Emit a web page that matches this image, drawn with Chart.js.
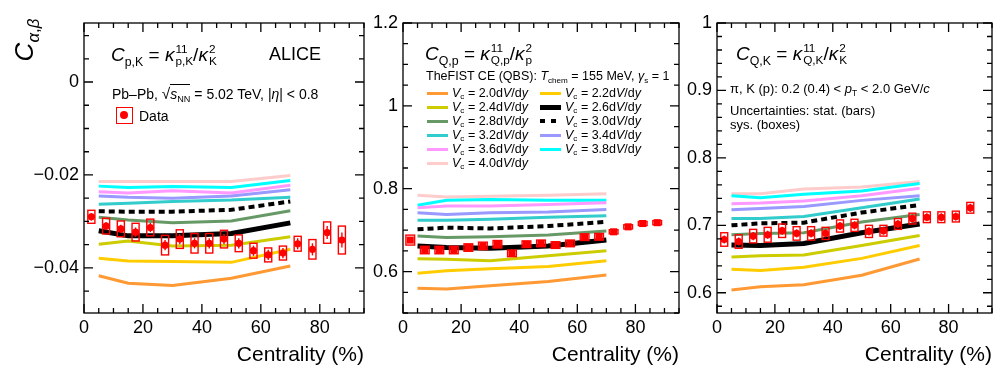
<!DOCTYPE html>
<html>
<head>
<meta charset="utf-8">
<script src="https://cdn.jsdelivr.net/npm/chart.js@4.4.0/dist/chart.umd.min.js"></script>
<style>
  body { margin: 0; background: #fff; width: 996px; height: 369px; position: relative; overflow: hidden;
         font-family: "Liberation Sans", Arial, Helvetica, sans-serif; color: #000; }
  canvas { position: absolute; top: 0; }
  .t { position: absolute; white-space: nowrap; line-height: 1; }
  .t sub { font-size: 0.65em; vertical-align: -0.35em; line-height: 0; }
  .ss { display: inline-flex; flex-direction: column; font-size: 0.62em; vertical-align: 0.7em; line-height: 1.05; margin-left: 1px; }
  .leg { position: absolute; font-size: 12.5px; white-space: nowrap; line-height: 1; }
  .leg .ln { position: absolute; left: 0; width: 21px; }
  .leg span.tx { position: absolute; left: 25px; top: -6px; }
</style>
</head>
<body>
<canvas id="c1" width="372" height="369" style="left:0px"></canvas>
<canvas id="c2" width="312" height="369" style="left:372px"></canvas>
<canvas id="c3" width="312" height="369" style="left:684px"></canvas>

<!-- y title -->
<div class="t" style="left:24px;top:40px;font-size:26px;transform:translate(-50%,-50%) rotate(-90deg);">
  <i>C</i><sub><i>α</i>,<i>β</i></sub>
</div>

<!-- panel 1 texts -->
<div class="t" style="left:111px;top:43px;font-size:19px;"><i>C</i><sub>p,K</sub> = <i>κ</i><span class="ss"><span>11</span><span>p,K</span></span>/<i>κ</i><span class="ss"><span>2</span><span>K</span></span></div>
<div class="t" style="left:269px;top:45px;font-size:18px;">ALICE</div>
<div class="t" style="left:112px;top:86px;font-size:14px;">Pb–Pb, <span style="font-size:1.1em">√</span><span style="border-top:1px solid #000;padding-top:1px"><i>s</i><sub>NN</sub></span> = 5.02 TeV, |<i>η</i>| &lt; 0.8</div>
<div style="position:absolute;left:116px;top:107px;width:15px;height:15px;border:1.5px solid #f00;"></div>
<div style="position:absolute;left:120px;top:111px;width:8px;height:8px;border-radius:50%;background:#f00;"></div>
<div class="t" style="left:139px;top:109px;font-size:14px;">Data</div>

<!-- panel 2 texts -->
<div class="t" style="left:425px;top:42px;font-size:19px;"><i>C</i><sub>Q,p</sub> = <i>κ</i><span class="ss"><span>11</span><span>Q,p</span></span>/<i>κ</i><span class="ss"><span>2</span><span>p</span></span></div>
<div class="t" style="left:426px;top:70px;font-size:12.5px;">TheFIST CE (QBS): <i>T</i><sub>chem</sub> = 155 MeV, <i>γ</i><sub>s</sub> = 1</div>
<div id="legend"></div>

<!-- panel 3 texts -->
<div class="t" style="left:736px;top:42px;font-size:19px;"><i>C</i><sub>Q,K</sub> = <i>κ</i><span class="ss"><span>11</span><span>Q,K</span></span>/<i>κ</i><span class="ss"><span>2</span><span>K</span></span></div>
<div class="t" style="left:730px;top:82px;font-size:13px;">π, K (p): 0.2 (0.4) &lt; <i>p</i><sub>T</sub> &lt; 2.0 GeV/<i>c</i></div>
<div class="t" style="left:730px;top:104px;font-size:13px;">Uncertainties: stat. (bars)</div>
<div class="t" style="left:730px;top:118px;font-size:13px;">sys. (boxes)</div>

<script>
Chart.defaults.font.family = '"Liberation Sans", Arial, Helvetica, sans-serif';
Chart.defaults.color = "#000";

// centrality bins of the data and of the model curves
const centrality = [2.5, 7.5, 12.5, 17.5, 22.5, 27.5, 32.5, 37.5, 42.5, 47.5, 52.5, 57.5, 62.5, 67.5, 72.5, 77.5, 82.5, 87.5];
const modelCentrality = [5, 15, 30, 50, 70];

// tick labels
const xTicks = [0, 20, 40, 60, 80];
const pkYTicks = [-0.04, -0.02, 0];
const qpYTicks = [0.6, 0.8, 1, 1.2];
const qkYTicks = [0.6, 0.7, 0.8, 0.9, 1];

// Vc values of the model
const vcLabels = ["2.0", "2.2", "2.4", "2.6", "2.8", "3.0", "3.2", "3.4", "3.6", "3.8", "4.0"];
const vcColors = ["#ff9933", "#ffcc00", "#cccc00", "#000000", "#669966", "#000000", "#33cccc", "#9999ff", "#ff99ff", "#00ffff", "#ffcccc"];

// C_p,K
const pkData = [-0.0290, -0.0310, -0.0316, -0.0323, -0.0313, -0.0351, -0.0338, -0.0347, -0.0347, -0.0338, -0.0347, -0.0363, -0.0372, -0.0368, -0.0348, -0.0360, -0.0324, -0.0340];
const pkSys = [0.0014, 0.0017, 0.0017, 0.0019, 0.0018, 0.0021, 0.0020, 0.0021, 0.0021, 0.0019, 0.0018, 0.0016, 0.0015, 0.0015, 0.0016, 0.0021, 0.0023, 0.0030];
const pkStat = [0.0008, 0.0009, 0.0009, 0.0010, 0.0010, 0.0011, 0.0011, 0.0011, 0.0011, 0.0011, 0.0011, 0.0011, 0.0011, 0.0011, 0.0012, 0.0013, 0.0014, 0.0016];
const pkModel = [
  [-0.0417, -0.0433, -0.0438, -0.0422, -0.0396],
  [-0.0379, -0.0385, -0.0386, -0.0388, -0.0360],
  [-0.0349, -0.0342, -0.0353, -0.0351, -0.0333],
  [-0.0320, -0.0331, -0.0331, -0.0326, -0.0303],
  [-0.0291, -0.0297, -0.0303, -0.0299, -0.0277],
  [-0.0278, -0.0279, -0.0279, -0.0275, -0.0257],
  [-0.0263, -0.0261, -0.0257, -0.0254, -0.0248],
  [-0.0245, -0.0248, -0.0250, -0.0245, -0.0232],
  [-0.0236, -0.0239, -0.0234, -0.0239, -0.0222],
  [-0.0224, -0.0227, -0.0225, -0.0227, -0.0212],
  [-0.0214, -0.0214, -0.0214, -0.0214, -0.0201],
];

// C_Q,p
const qpData = [0.676, 0.652, 0.652, 0.652, 0.658, 0.662, 0.666, 0.644, 0.666, 0.668, 0.664, 0.668, 0.683, 0.684, 0.696, 0.708, 0.716, 0.718];
const qpSys = [0.012, 0.009, 0.009, 0.009, 0.009, 0.009, 0.009, 0.008, 0.008, 0.008, 0.008, 0.008, 0.008, 0.008, 0.005, 0.005, 0.005, 0.005];
const qpStat = [0.004, 0.004, 0.004, 0.004, 0.004, 0.004, 0.004, 0.004, 0.004, 0.004, 0.004, 0.004, 0.004, 0.004, 0.004, 0.004, 0.004, 0.004];
const qpModel = [
  [0.560, 0.558, 0.566, 0.576, 0.592],
  [0.596, 0.602, 0.607, 0.612, 0.626],
  [0.631, 0.630, 0.626, 0.638, 0.650],
  [0.662, 0.658, 0.656, 0.662, 0.676],
  [0.686, 0.682, 0.684, 0.688, 0.698],
  [0.702, 0.706, 0.704, 0.710, 0.720],
  [0.724, 0.724, 0.726, 0.731, 0.735],
  [0.742, 0.738, 0.742, 0.744, 0.750],
  [0.754, 0.758, 0.758, 0.762, 0.766],
  [0.760, 0.772, 0.774, 0.772, 0.772],
  [0.784, 0.780, 0.782, 0.784, 0.788],
];

// C_Q,K
const qkData = [0.679, 0.676, 0.684, 0.686, 0.692, 0.688, 0.688, 0.688, 0.699, 0.700, 0.691, 0.692, 0.702, 0.710, 0.712, 0.712, 0.713, 0.726];
const qkSys = [0.010, 0.010, 0.010, 0.011, 0.010, 0.010, 0.010, 0.009, 0.009, 0.009, 0.009, 0.008, 0.008, 0.008, 0.008, 0.008, 0.008, 0.008];
const qkStat = [0.006, 0.006, 0.006, 0.006, 0.006, 0.006, 0.006, 0.006, 0.006, 0.006, 0.006, 0.006, 0.006, 0.006, 0.006, 0.006, 0.006, 0.006];
const qkModel = [
  [0.604, 0.609, 0.612, 0.626, 0.650],
  [0.635, 0.633, 0.638, 0.651, 0.670],
  [0.653, 0.655, 0.656, 0.670, 0.685],
  [0.671, 0.670, 0.673, 0.689, 0.702],
  [0.686, 0.688, 0.689, 0.705, 0.716],
  [0.700, 0.703, 0.704, 0.719, 0.730],
  [0.710, 0.710, 0.713, 0.726, 0.739],
  [0.723, 0.725, 0.728, 0.737, 0.744],
  [0.732, 0.733, 0.736, 0.744, 0.755],
  [0.744, 0.741, 0.746, 0.751, 0.762],
  [0.747, 0.747, 0.754, 0.757, 0.765],
];

function lineWidthFor(i) {
  if (i == 3) return 5;
  if (i == 5) return 4;
  return 3;
}

//legend of the model curves (middle panel)
const legend = document.getElementById("legend");
const legRows = [93, 107, 121, 135, 149, 163];
for (let i = 0; i < vcLabels.length; i++) {
  const row = Math.floor(i / 2);
  const col = i % 2;
  const d = document.createElement("div");
  d.className = "leg";
  d.style.left = (col == 0 ? 427 : 540) + "px";
  d.style.top = legRows[row] + "px";
  const w = lineWidthFor(i);
  let lineStyle = "height:" + w + "px;top:" + (-w / 2) + "px;background:" + vcColors[i] + ";";
  if (i == 5) {
    lineStyle = "height:4px;top:-2px;background:repeating-linear-gradient(90deg,#000 0 5px,transparent 5px 11px);";
  }
  d.innerHTML = '<div class="ln" style="' + lineStyle + '"></div>' +
    '<span class="tx"><i>V</i><sub style="font-size:0.65em;vertical-align:-0.3em;line-height:0">c</sub> = ' + vcLabels[i] + 'd<i>V</i>/d<i>y</i></span>';
  legend.appendChild(d);
}

function framePlugin(xMinor, yMinor) {
  return {
    id: "frame",
    afterDraw(chart) {
      const { ctx, chartArea: a, scales } = chart;
      const x = scales.x, y = scales.y;
      ctx.save();
      ctx.strokeStyle = "#000";
      ctx.lineWidth = 1.3;
      ctx.strokeRect(a.left, a.top, a.right - a.left, a.bottom - a.top);
      ctx.beginPath();
      for (let v = x.min; v <= x.max + 1e-9; v += xMinor) {
        const px = x.getPixelForValue(v);
        const major = Math.abs(v / 20 - Math.round(v / 20)) < 1e-6;
        const len = major ? 9 : 5;
        ctx.moveTo(px, a.bottom); ctx.lineTo(px, a.bottom - len);
        ctx.moveTo(px, a.top); ctx.lineTo(px, a.top + len);
      }
      const yMajor = chart.options.scales.y.majorStep;
      const start = Math.ceil(y.min / yMinor - 1e-6) * yMinor;
      for (let v = start; v <= y.max + 1e-9; v += yMinor) {
        const py = y.getPixelForValue(v);
        const major = Math.abs(v / yMajor - Math.round(v / yMajor)) < 1e-6;
        const len = major ? 9 : 5;
        ctx.moveTo(a.left, py); ctx.lineTo(a.left + len, py);
        ctx.moveTo(a.right, py); ctx.lineTo(a.right - len, py);
      }
      ctx.stroke();
      ctx.restore();
    },
  };
}

function errorPlugin(values, sys, stat, halfWidth) {
  return {
    id: "errors",
    afterDatasetsDraw(chart) {
      const { ctx, scales } = chart;
      const x = scales.x, y = scales.y;
      ctx.save();
      ctx.strokeStyle = "#ff0000";
      ctx.lineWidth = 1.4;
      for (let i = 0; i < values.length; i++) {
        const c = centrality[i];
        const x0 = x.getPixelForValue(c - halfWidth);
        const x1 = x.getPixelForValue(c + halfWidth);
        const y0 = y.getPixelForValue(values[i] + sys[i]);
        const y1 = y.getPixelForValue(values[i] - sys[i]);
        ctx.strokeRect(x0, y0, x1 - x0, y1 - y0);
        const xc = x.getPixelForValue(c);
        ctx.beginPath();
        ctx.moveTo(xc, y.getPixelForValue(values[i] + stat[i]));
        ctx.lineTo(xc, y.getPixelForValue(values[i] - stat[i]));
        ctx.stroke();
      }
      ctx.restore();
    },
  };
}

function makePanel(id, cfg) {
  const datasets = [];
  datasets.push({
    label: "Data",
    data: centrality.map((c, i) => ({ x: c, y: cfg.values[i] })),
    showLine: false,
    pointStyle: cfg.marker,
    pointRadius: cfg.marker == "rect" ? 5 : 3.6,
    pointBackgroundColor: "#ff0000",
    pointBorderWidth: 0,
  });
  for (let i = 0; i < vcLabels.length; i++) {
    datasets.push({
      label: "Vc = " + vcLabels[i],
      data: modelCentrality.map((c, j) => ({ x: c, y: cfg.model[i][j] })),
      borderColor: vcColors[i],
      borderWidth: lineWidthFor(i),
      borderDash: i == 5 ? [6, 4] : [],
      pointRadius: 0,
      fill: false,
      tension: 0,
    });
  }
  new Chart(document.getElementById(id), {
    type: "line",
    data: { datasets: datasets },
    options: {
      responsive: false,
      animation: false,
      devicePixelRatio: 1,
      layout: { padding: cfg.padding },
      plugins: { legend: { display: false }, tooltip: { enabled: false } },
      scales: {
        x: {
          type: "linear",
          min: 0,
          max: 95,
          grid: { display: false, drawTicks: false },
          border: { display: false },
          afterBuildTicks: (s) => { s.ticks = xTicks.map((v) => ({ value: v })); },
          ticks: { font: { size: 18 }, color: "#000", padding: 4, maxRotation: 0, autoSkip: false },
          title: { display: true, text: "Centrality (%)", align: "end", font: { size: 21 }, color: "#000", padding: 0 },
          afterFit: (s) => { s.height = 55; },
        },
        y: {
          type: "linear",
          min: cfg.yMin,
          max: cfg.yMax,
          majorStep: cfg.yMajor,
          grid: { display: false, drawTicks: false },
          border: { display: false },
          afterBuildTicks: (s) => { s.ticks = cfg.yTicks.map((v) => ({ value: v })); },
          ticks: { font: { size: 18 }, color: "#000", padding: 5, autoSkip: false, callback: cfg.fmt },
          afterFit: (s) => { s.width = cfg.yWidth; },
        },
      },
    },
    plugins: [errorPlugin(cfg.values, cfg.sys, cfg.stat, cfg.halfWidth), framePlugin(5, cfg.yMinor)],
  });
}

makePanel("c1", {
  values: pkData, sys: pkSys, stat: pkStat, model: pkModel, marker: "circle", halfWidth: 1.2,
  yMin: -0.0497, yMax: 0.0127, yMajor: 0.02, yMinor: 0.005, yTicks: pkYTicks, yWidth: 60,
  padding: { left: 24, right: 8, top: 23, bottom: 1 },
  fmt: (v) => (v == 0 ? "0" : "\u2212" + Math.abs(v).toFixed(2)),
});
makePanel("c2", {
  values: qpData, sys: qpSys, stat: qpStat, model: qpModel, marker: "rect", halfWidth: 1.5,
  yMin: 0.5, yMax: 1.2, yMajor: 0.2, yMinor: 0.05, yTicks: qpYTicks, yWidth: 31,
  padding: { left: 0, right: 5, top: 23, bottom: 1 },
  fmt: (v) => String(+v.toFixed(2)),
});
makePanel("c3", {
  values: qkData, sys: qkSys, stat: qkStat, model: qkModel, marker: "circle", halfWidth: 1.2,
  yMin: 0.57, yMax: 1.0, yMajor: 0.1, yMinor: 0.02, yTicks: qkYTicks, yWidth: 33,
  padding: { left: 0, right: 4, top: 23, bottom: 1 },
  fmt: (v) => String(+v.toFixed(2)),
});
</script>
</body>
</html>
